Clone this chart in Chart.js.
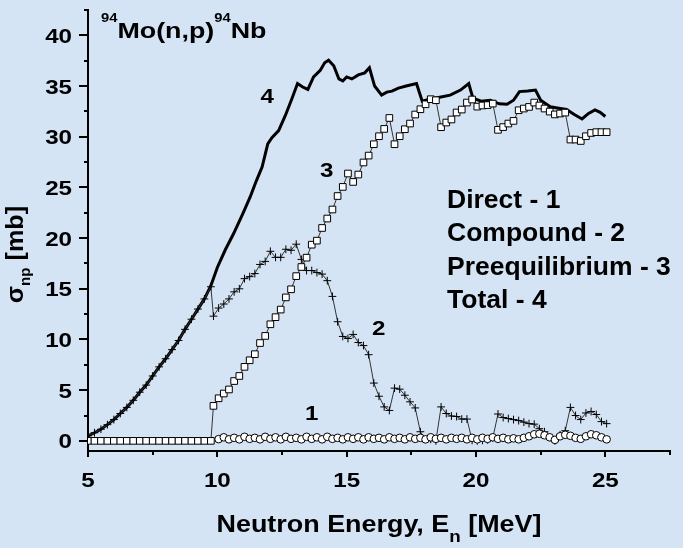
<!DOCTYPE html>
<html>
<head>
<meta charset="utf-8">
<script src="https://cdn.jsdelivr.net/npm/chart.js@4.4.1/dist/chart.umd.min.js"></script>
<style>
  html, body { margin: 0; padding: 0; background: #d4e4f4; }
  #wrap { width: 683px; height: 548px; }
</style>
</head>
<body>
<div id="wrap"><canvas id="npChart" width="683" height="548"></canvas></div>
<script>
// Energies below the preequilibrium threshold (MeV)
const lowEnergies = [5.0, 5.25, 5.5, 5.75, 6.0, 6.25, 6.5, 6.75, 7.0, 7.25,
  7.5, 7.75, 8.0, 8.25, 8.5, 8.75, 9.0, 9.25, 9.5, 9.75];
const preLow = [0, 0, 0, 0, 0, 0, 0, 0, 0, 0, 0, 0, 0, 0, 0, 0, 0, 0, 0, 0];
const compLow = [0.5, 0.8, 1.15, 1.6, 2.1, 2.7, 3.3, 4.0, 4.8, 5.5,
  6.4, 7.3, 8.1, 9.0, 9.9, 11.0, 12.0, 13.0, 14.0, 15.2];

// Energies above threshold (MeV)
const highEnergies = [9.85, 10.05, 10.25, 10.45, 10.65, 10.85, 11.05, 11.25, 11.45, 11.65,
  11.85, 12.05, 12.25, 12.45, 12.65, 12.85, 13.05, 13.25, 13.45, 13.65,
  13.85, 14.05, 14.25, 14.45, 14.65, 14.85, 15.05, 15.25, 15.45, 15.65,
  15.85, 16.05, 16.25, 16.45, 16.65, 16.85, 17.05, 17.25, 17.45, 17.65,
  17.85, 18.05, 18.25, 18.45, 18.65, 18.85, 19.05, 19.25, 19.45, 19.65,
  19.85, 20.05, 20.25, 20.45, 20.65, 20.85, 21.05, 21.25, 21.45, 21.65,
  21.85, 22.05, 22.25, 22.45, 22.65, 22.85, 23.05, 23.25, 23.45, 23.65,
  23.85, 24.05, 24.25, 24.45, 24.65, 24.85, 25.05];

// Preequilibrium cross-section (mb)
const preHigh = [3.45, 4.2, 4.67, 5.07, 5.9, 6.4, 7.3, 7.95, 8.55, 9.65,
  10.35, 11.5, 12.2, 12.95, 14.15, 14.95, 16.25, 17.15, 18.07, 19.35,
  19.75, 21.0, 21.93, 22.82, 24.15, 25.05, 26.37, 25.54, 26.27, 27.46,
  28.14, 29.26, 30.05, 30.77, 31.85, 29.26, 30.05, 30.74, 31.3, 32.19,
  32.71, 33.2, 33.7, 33.6, 30.94, 31.4, 31.7, 32.39, 32.68, 33.37,
  33.67, 32.97, 33.08, 33.12, 33.27, 30.68, 30.95, 31.3, 31.56, 32.61,
  32.78, 32.94, 33.37, 33.08, 32.78, 32.48, 32.2, 32.29, 32.38, 29.72,
  29.72, 29.58, 30.05, 30.37, 30.45, 30.45, 30.45];

// Compound cross-section (mb)
const compHigh = [12.3, 13.1, 13.5, 14.0, 14.7, 15.0, 16.0, 16.2, 16.5, 17.4,
  17.7, 18.7, 18.1, 18.1, 18.9, 18.8, 19.4, 17.9, 16.8, 16.8,
  16.6, 16.45, 15.8, 14.25, 11.75, 10.3, 10.1, 10.5, 9.7, 9.4,
  8.5, 5.7, 4.4, 3.35, 3.0, 5.2, 5.1, 4.5, 3.85, 3.25,
  0.9, 0.15, 0.15, 0.0, 3.35, 2.7, 2.45, 2.4, 2.15, 2.15,
  0.05, 0.0, 0.05, 0.1, 0.3, 2.65, 2.3, 2.2, 2.1, 2.0,
  1.85, 1.7, 1.65, 1.2, 0.9, 0.35, 0.0, 0.6, 1.0, 3.3,
  2.5, 2.1, 2.75, 2.9, 2.6, 1.9, 1.7];

// Direct cross-section (mb), starts at the second high energy
const directHigh = [0.17, 0.35, 0.15, 0.3, 0.15, 0.4, 0.2, 0.3, 0.15, 0.4,
  0.2, 0.35, 0.15, 0.4, 0.2, 0.3, 0.15, 0.4, 0.2, 0.35,
  0.15, 0.4, 0.2, 0.3, 0.15, 0.35, 0.2, 0.35, 0.15, 0.35,
  0.2, 0.3, 0.15, 0.35, 0.2, 0.3, 0.15, 0.35, 0.2, 0.3,
  0.15, 0.35, 0.2, 0.3, 0.15, 0.3, 0.2, 0.3, 0.15, 0.3,
  0.15, 0.3, 0.2, 0.35, 0.2, 0.3, 0.15, 0.25, 0.15, 0.3,
  0.45, 0.65, 0.7, 0.55, 0.35, 0.1, 0.45, 0.6, 0.5, 0.3,
  0.2, 0.45, 0.65, 0.55, 0.35, 0.15];

// Total cross-section (mb)
const totalEnergies = [5.0, 5.25, 5.5, 5.75, 6.0, 6.25, 6.5, 6.75, 7.0, 7.25,
  7.5, 7.75, 8.0, 8.25, 8.5, 8.75, 9.0, 9.25, 9.5, 9.75,
  10.0, 10.3, 10.63, 11.0, 11.27, 11.5, 11.73, 11.95, 12.11, 12.37,
  12.63, 12.89, 13.1, 13.3, 13.5, 13.72, 13.98, 14.15, 14.3, 14.5,
  14.7, 14.85, 15.0, 15.2, 15.45, 15.7, 15.88, 16.08, 16.35, 16.55,
  16.75, 17.0, 17.3, 17.7, 17.92, 18.2, 18.6, 19.0, 19.4, 19.72,
  19.88, 20.2, 20.55, 20.9, 21.2, 21.45, 21.68, 22.0, 22.3, 22.5,
  22.87, 23.2, 23.5, 23.8, 24.1, 24.35, 24.6, 24.8, 25.0];
const totalValues = [0.5, 0.8, 1.15, 1.6, 2.1, 2.7, 3.3, 4.0, 4.8, 5.5,
  6.4, 7.3, 8.1, 9.0, 9.9, 11.0, 12.0, 13.0, 14.0, 15.3,
  17.1, 18.8, 20.45, 22.5, 24.06, 25.6, 27.0, 29.3, 29.9, 30.6,
  32.1, 33.8, 35.25, 34.9, 34.66, 35.9, 36.56, 37.3, 37.55, 37.0,
  35.7, 35.5, 35.9, 35.7, 36.1, 36.3, 36.8, 35.0, 34.1, 34.4,
  34.5, 34.8, 35.0, 35.25, 33.5, 33.7, 33.9, 34.1, 34.6, 35.25,
  33.8, 33.5, 33.6, 33.25, 33.2, 33.6, 34.45, 34.5, 34.6, 33.6,
  32.95, 32.8, 32.68, 32.2, 31.75, 32.3, 32.65, 32.4, 32.0];

// Axis ticks
const xMajor = [5, 10, 15, 20, 25];
const xMinor = [7.5, 12.5, 17.5, 22.5, 27.5];
const yMajor = [0, 5, 10, 15, 20, 25, 30, 35, 40];
const yMinor = [2.5, 7.5, 12.5, 17.5, 22.5, 27.5, 32.5, 37.5, 42.5];

// Curve numbers and legend entries
const curveLabels = [
  { text: '4', x: 11.93, y: 34.1 },
  { text: '3', x: 14.23, y: 26.8 },
  { text: '2', x: 16.24, y: 11.2 },
  { text: '1', x: 13.65, y: 2.8 }
];
const legendLines = ['Direct - 1', 'Compound - 2', 'Preequilibrium - 3', 'Total - 4'];

const FONT = '"Liberation Sans", Arial, sans-serif';

function toPoints(xs, ys) {
  return xs.map((x, i) => ({ x: x, y: ys[i] }));
}

// draws a run of text pieces (plain / sup / sub), optionally stretched horizontally
function drawParts(ctx, parts, x, y, size, stretch, align) {
  const pieces = parts.map(p => {
    const s = p.pos ? size * (p.scale || 0.6) : size;
    ctx.font = 'bold ' + s + 'px ' + FONT;
    return { p: p, s: s, w: ctx.measureText(p.text).width * stretch };
  });
  const total = pieces.reduce((a, q) => a + q.w, 0);
  let cx = align === 'center' ? x - total / 2 : align === 'right' ? x - total : x;
  pieces.forEach(q => {
    let dy = 0;
    if (q.p.pos === 'sup') dy = -size * (q.p.shift || 0.4);
    if (q.p.pos === 'sub') dy = size * (q.p.shift || 0.3);
    ctx.save();
    ctx.font = 'bold ' + q.s + 'px ' + FONT;
    ctx.translate(cx, y + dy);
    ctx.scale(stretch, 1);
    ctx.fillText(q.p.text, 0, 0);
    ctx.restore();
    cx += q.w;
  });
}

const decorations = {
  id: 'decorations',
  afterDraw(chart) {
    const ctx = chart.ctx;
    const xs = chart.scales.x;
    const ys = chart.scales.y;
    const area = chart.chartArea;
    ctx.save();
    ctx.fillStyle = '#000';
    ctx.strokeStyle = '#000';
    ctx.textAlign = 'left';
    ctx.textBaseline = 'alphabetic';

    // minor ticks
    ctx.lineWidth = 2;
    ctx.beginPath();
    xMinor.forEach(v => {
      const px = Math.round(xs.getPixelForValue(v));
      ctx.moveTo(px, area.bottom);
      ctx.lineTo(px, area.bottom + 4);
    });
    yMinor.forEach(v => {
      const py = Math.round(ys.getPixelForValue(v));
      ctx.moveTo(area.left, py);
      ctx.lineTo(area.left - 4, py);
    });
    ctx.stroke();

    // tick labels
    const tickSize = 21;
    xMajor.forEach(v => {
      drawParts(ctx, [{ text: String(v) }], xs.getPixelForValue(v), area.bottom + 36, tickSize, 1.15, 'center');
    });
    yMajor.forEach(v => {
      const py = ys.getPixelForValue(v);
      drawParts(ctx, [{ text: String(v) }], area.left - 16, py + tickSize * 0.36, tickSize, 1.15, 'right');
    });

    // axis titles
    drawParts(ctx, [
      { text: 'Neutron Energy, E' },
      { text: 'n', pos: 'sub', scale: 0.7, shift: 0.45 },
      { text: ' [MeV]' }
    ], 379, area.bottom + 81, 23, 1.17, 'center');

    ctx.save();
    ctx.translate(23, (area.top + area.bottom) / 2 + 24);
    ctx.rotate(-Math.PI / 2);
    drawParts(ctx, [
      { text: 'σ' },
      { text: 'np', pos: 'sub', scale: 0.6, shift: 0.3 },
      { text: ' [mb]' }
    ], 0, 0, 24, 1.05, 'center');
    ctx.restore();

    // reaction title
    drawParts(ctx, [
      { text: '94', pos: 'sup', scale: 0.55, shift: 0.75 },
      { text: 'Mo(n,p)' },
      { text: '94', pos: 'sup', scale: 0.55, shift: 0.75 },
      { text: 'Nb' }
    ], area.left + 13, area.top + 28, 22, 1.22, 'left');

    // curve numbers
    curveLabels.forEach(l => {
      drawParts(ctx, [{ text: l.text }], xs.getPixelForValue(l.x), ys.getPixelForValue(l.y) + 7.5, 21, 1.15, 'center');
    });

    // legend text
    legendLines.forEach((t, i) => {
      drawParts(ctx, [{ text: t }], area.left + 359, area.top + 198 + i * 33.4, 25, 1.06, 'left');
    });
    ctx.restore();
  }
};

const markerLine = { showLine: true, borderColor: '#333', borderWidth: 1, pointBorderColor: '#000', pointBorderWidth: 1 };

new Chart(document.getElementById('npChart').getContext('2d'), {
  type: 'scatter',
  data: {
    datasets: [
      Object.assign({
        label: 'Direct',
        data: toPoints(highEnergies.slice(1), directHigh),
        pointStyle: 'circle',
        pointRadius: 3.8,
        pointBackgroundColor: '#fff'
      }, markerLine),
      Object.assign({
        label: 'Preequilibrium',
        data: toPoints(lowEnergies.concat(highEnergies), preLow.concat(preHigh)),
        pointStyle: 'rect',
        pointRadius: 4.7,
        pointBackgroundColor: '#fff'
      }, markerLine),
      Object.assign({
        label: 'Compound',
        data: toPoints(lowEnergies.concat(highEnergies), compLow.concat(compHigh)),
        pointStyle: 'cross',
        pointRadius: 3.9,
        pointBackgroundColor: '#000'
      }, markerLine),
      {
        label: 'Total',
        data: toPoints(totalEnergies, totalValues),
        showLine: true,
        borderColor: '#000',
        borderWidth: 3,
        pointRadius: 0,
        tension: 0
      }
    ]
  },
  options: {
    responsive: false,
    animation: false,
    layout: { padding: { top: 10, right: 13, left: 0, bottom: 0 } },
    plugins: { legend: { display: false }, tooltip: { enabled: false } },
    scales: {
      x: {
        type: 'linear',
        position: 'bottom',
        min: 5,
        max: 27.5,
        afterBuildTicks: s => { s.ticks = xMajor.map(v => ({ value: v })); },
        afterFit: s => { s.height = 97; },
        ticks: { display: false },
        grid: { drawOnChartArea: false, drawTicks: true, tickLength: 6, color: '#000', lineWidth: 2 },
        border: { display: true, color: '#000', width: 2 }
      },
      y: {
        type: 'linear',
        min: -1,
        max: 42.5,
        afterBuildTicks: s => { s.ticks = yMajor.map(v => ({ value: v })); },
        afterFit: s => { s.width = 88; },
        ticks: { display: false },
        grid: { drawOnChartArea: false, drawTicks: true, tickLength: 9, color: '#000', lineWidth: 2 },
        border: { display: true, color: '#000', width: 2 }
      }
    }
  },
  plugins: [decorations]
});
</script>
</body>
</html>
